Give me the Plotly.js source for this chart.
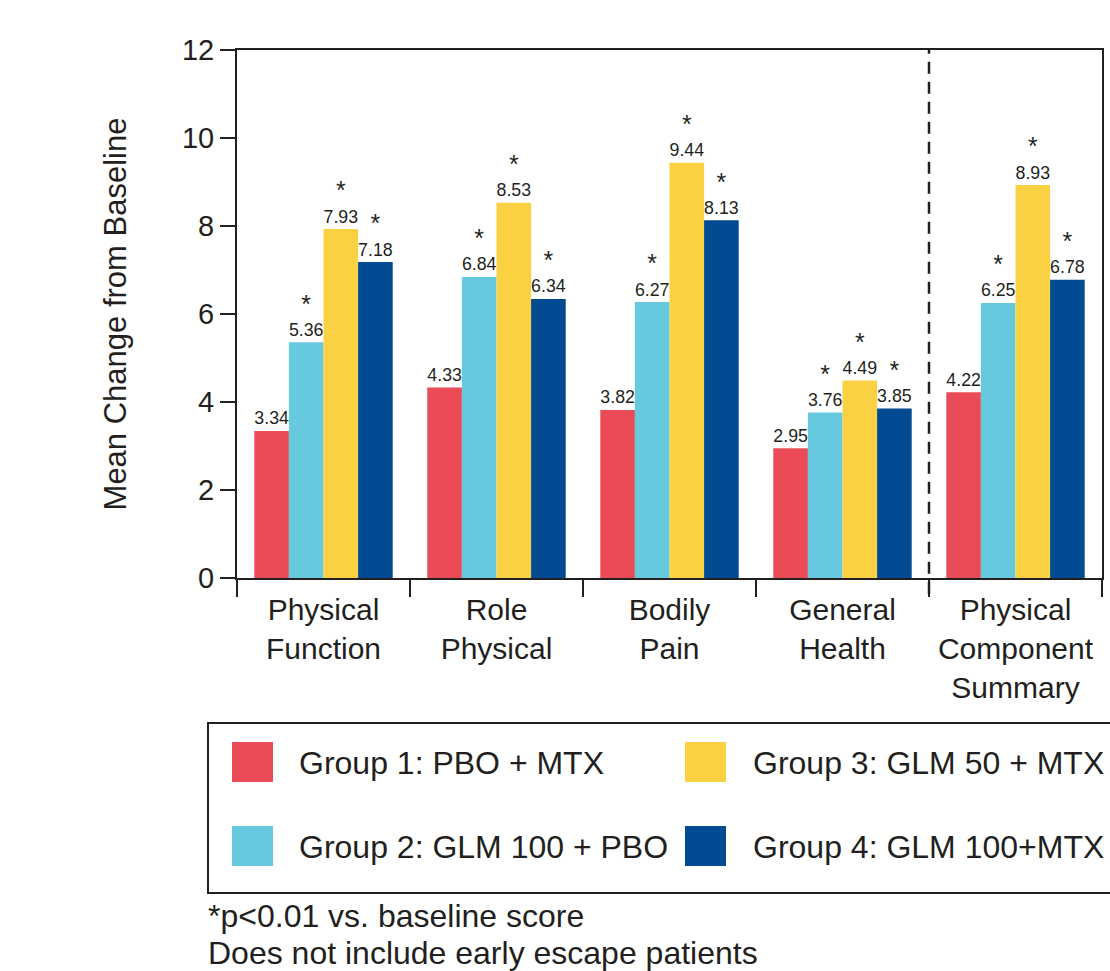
<!DOCTYPE html>
<html>
<head>
<meta charset="utf-8">
<script src="https://cdn.plot.ly/plotly-3.0.1.min.js"></script>
<style>
  html, body { margin: 0; padding: 0; background: #ffffff; }
  #chart { width: 1110px; height: 971px; }
</style>
</head>
<body>
<div id="chart"></div>
<script>
// ---- Data ----
var categories = ["Physical<br>Function", "Role<br>Physical", "Bodily<br>Pain", "General<br>Health", "Physical<br>Component<br>Summary"];
var seriesNames = ["Group 1: PBO + MTX", "Group 2: GLM 100 + PBO", "Group 3: GLM 50 + MTX", "Group 4: GLM 100+MTX"];
var group1 = [3.34, 4.33, 3.82, 2.95, 4.22];
var group2 = [5.36, 6.84, 6.27, 3.76, 6.25];
var group3 = [7.93, 8.53, 9.44, 4.49, 8.93];
var group4 = [7.18, 6.34, 8.13, 3.85, 6.78];
var sig1 = [false, false, false, false, false];
var sig2 = [true, true, true, true, true];
var sig3 = [true, true, true, true, true];
var sig4 = [true, true, true, true, true];
var colors = ["#E94B57", "#67C9DD", "#F9D142", "#024A91"];
var yTickVals = [0, 2, 4, 6, 8, 10, 12];
var yTitle = "Mean Change from Baseline";
var footnotes = ["*p<0.01 vs. baseline score", "Does not include early escape patients"];

// ---- Layout geometry (pixels) ----
var W = 1110, H = 971;
var M = {l: 237, r: 8, t: 50, b: 393};
var plotW = W - M.l - M.r, plotH = H - M.t - M.b;
function px(x) { return (x - M.l) / plotW; }
function py(y) { return (H - M.b - y) / plotH; }

var textColor = "#231F20";
var fontFam = "Liberation Sans, Arial, Helvetica, sans-serif";
var allValues = [group1, group2, group3, group4];
var allSig = [sig1, sig2, sig3, sig4];

var traces = allValues.map(function (vals, i) {
  return {
    type: "bar",
    name: seriesNames[i],
    x: categories,
    y: vals,
    marker: {color: colors[i], line: {width: 0}},
    text: vals.map(function (v, j) {
      return (allSig[i][j] ? "<span style=\"font-size:28px\">*</span><br>" : "") + v.toFixed(2);
    }),
    textposition: "outside",
    textfont: {family: fontFam, size: 20, color: textColor},
    cliponaxis: false,
    hoverinfo: "skip",
    showlegend: false
  };
});

var shapes = [
  // dashed separator between General Health and PCS
  {type: "line", xref: "x", yref: "paper", x0: 3.5, x1: 3.5, y0: -0.03, y1: 1,
   line: {color: textColor, width: 2.5, dash: "12px,8px"}},
  // legend box
  {type: "rect", xref: "paper", yref: "paper", x0: px(208), x1: px(1114), y0: py(723), y1: py(893),
   line: {color: textColor, width: 2}, fillcolor: "rgba(0,0,0,0)"}
];
var annotations = [];
var legendPos = [
  {sx: 232, sy: 742, tx: 299},
  {sx: 232, sy: 826, tx: 299},
  {sx: 685, sy: 742, tx: 753},
  {sx: 685, sy: 826, tx: 753}
];
seriesNames.forEach(function (name, i) {
  var p = legendPos[i];
  shapes.push({type: "rect", xref: "paper", yref: "paper",
    x0: px(p.sx), x1: px(p.sx + 41), y0: py(p.sy), y1: py(p.sy + 40),
    line: {width: 0}, fillcolor: colors[i]});
  annotations.push({xref: "paper", yref: "paper", x: px(p.tx - 2), y: py(p.sy + 21),
    xanchor: "left", yanchor: "middle", showarrow: false, text: name,
    font: {family: fontFam, size: 32, color: textColor}});
});
annotations.push({xref: "paper", yref: "paper", x: px(206), y: py(916), xanchor: "left", yanchor: "middle",
  showarrow: false, text: footnotes[0], font: {family: fontFam, size: 32, color: textColor}});
annotations.push({xref: "paper", yref: "paper", x: px(206), y: py(953), xanchor: "left", yanchor: "middle",
  showarrow: false, text: footnotes[1], font: {family: fontFam, size: 32, color: textColor}});

var layout = {
  width: W, height: H,
  margin: M,
  paper_bgcolor: "#ffffff",
  plot_bgcolor: "#ffffff",
  font: {family: fontFam, color: textColor},
  barmode: "group",
  bargap: 0.2,
  bargroupgap: 0,
  showlegend: false,
  xaxis: {
    type: "category",
    tickson: "boundaries",
    ticks: "outside",
    ticklen: 17,
    tickwidth: 2,
    tickcolor: textColor,
    showline: true,
    linecolor: textColor,
    linewidth: 2,
    mirror: true,
    showgrid: false,
    zeroline: false,
    ticklabelstandoff: 4,
    tickfont: {family: fontFam, size: 30, color: textColor},
    fixedrange: true
  },
  yaxis: {
    range: [0, 12],
    tickvals: yTickVals,
    ticktext: yTickVals.map(String),
    ticks: "outside",
    ticklen: 15,
    tickwidth: 2,
    tickcolor: textColor,
    showline: true,
    linecolor: textColor,
    linewidth: 2,
    mirror: true,
    showgrid: false,
    zeroline: false,
    tickfont: {family: fontFam, size: 29, color: textColor},
    title: {text: yTitle, font: {family: fontFam, size: 31, color: textColor}, standoff: 46},
    fixedrange: true
  },
  shapes: shapes,
  annotations: annotations
};

Plotly.newPlot("chart", traces, layout, {displayModeBar: false, staticPlot: true});
</script>
</body>
</html>
